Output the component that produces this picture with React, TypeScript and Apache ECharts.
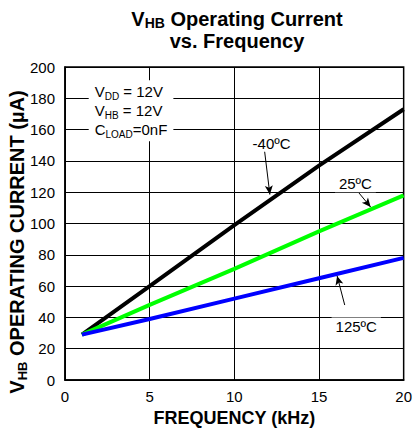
import React, { useEffect, useRef } from "react";
import * as echarts from "echarts";

const freqKHz = [1, 5, 10, 15, 20];
const currentM40 = [29, 60, 99, 137, 173];
const current25 = [29, 48, 71, 95, 118];
const current125 = [29, 39, 52, 65, 78];
const xTicks = [0, 5, 10, 15, 20];
const yTicks = [0, 20, 40, 60, 80, 100, 120, 140, 160, 180, 200];

const FONT = "Liberation Sans, Arial, Helvetica, sans-serif";

function pairs(ys: number[]) {
  return freqKHz.map((x, i) => [x, ys[i]]);
}

export default function App() {
  const ref = useRef<HTMLDivElement>(null);
  useEffect(() => {
    if (!ref.current) return;
    const chart = echarts.init(ref.current, undefined, { renderer: "svg" });
    const lbl = (text: string) => ({
      show: true,
      formatter: text,
      position: "inside",
      color: "#000",
      fontSize: 15,
      fontFamily: FONT,
      backgroundColor: "#fff",
      padding: [1, 4, 1, 4],
    });
    const arrow = (from: number[], to: number[]) => [
      { coord: from, symbol: "none" },
      { coord: to, symbol: "arrow" },
    ];
    const markLineBase = {
      silent: true,
      symbol: ["none", "arrow"],
      symbolSize: [6, 9],
      lineStyle: { color: "#000", width: 1, type: "solid" },
      label: { show: false },
      animation: false,
    };
    chart.setOption({
      animation: false,
      backgroundColor: "#fff",
      title: {
        text: "{a|V}{s|HB}{a| Operating Current}\n{a|vs. Frequency}",
        left: 232,
        textAlign: "center",
        top: 3,
        textStyle: {
          rich: {
            a: { fontSize: 20, fontWeight: "bold", fontFamily: FONT, color: "#000", lineHeight: 22 },
            s: { fontSize: 14, fontWeight: "bold", fontFamily: FONT, color: "#000", verticalAlign: "bottom", lineHeight: 22, padding: [9, 0, 0, 0] },
          },
        },
      },
      graphic: [
        {
          type: "text",
          x: 17,
          y: 242,
          rotation: Math.PI / 2,
          style: {
            text: "{a|V}{s|HB}{a| OPERATING CURRENT (µA)}",
            align: "center",
            verticalAlign: "middle",
            rich: {
              a: { fontSize: 20, fontWeight: "bold", fontFamily: FONT, fill: "#000", lineHeight: 24 },
              s: { fontSize: 13, fontWeight: "bold", fontFamily: FONT, fill: "#000", verticalAlign: "bottom", lineHeight: 24, padding: [10, 0, 0, 0] },
            },
          },
        },
      ],
      grid: { left: 65, right: 9, top: 67, bottom: 52, show: true, borderColor: "#000", borderWidth: 1.5 },
      xAxis: {
        type: "value",
        min: 0,
        max: 20,
        interval: 5,
        name: "FREQUENCY (kHz)",
        nameLocation: "middle",
        nameGap: 28,
        nameTextStyle: { fontSize: 18, fontWeight: "bold", fontFamily: FONT, color: "#000" },
        axisLine: { show: true, lineStyle: { color: "#000", width: 1.5 } },
        axisTick: { show: false },
        axisLabel: { color: "#000", fontSize: 15, fontFamily: FONT, margin: 9, formatter: (v: number) => (xTicks.includes(v) ? String(v) : "") },
        splitLine: { show: true, lineStyle: { color: "#000", width: 1 } },
      },
      yAxis: {
        type: "value",
        min: 0,
        max: 200,
        interval: 20,
        axisLine: { show: true, lineStyle: { color: "#000", width: 1.5 } },
        axisTick: { show: false },
        axisLabel: { color: "#000", fontSize: 15, fontFamily: FONT, margin: 10, formatter: (v: number) => (yTicks.includes(v) ? String(v) : "") },
        splitLine: { show: true, lineStyle: { color: "#000", width: 1 } },
      },
      series: [
        {
          name: "-40ºC",
          type: "line",
          data: pairs(currentM40),
          showSymbol: false,
          lineStyle: { color: "#000", width: 4 },
          z: 3,
          markLine: { ...markLineBase, data: [arrow([11.79, 146], [12.1, 118.5])] },
          markPoint: {
            symbolSize: 0,
            data: [{ coord: [12.2, 151.4], label: lbl("-40ºC") }],
          },
        },
        {
          name: "25ºC",
          type: "line",
          data: pairs(current25),
          showSymbol: false,
          lineStyle: { color: "#00ff00", width: 4 },
          z: 3,
          markLine: { ...markLineBase, data: [arrow([17.3, 120.3], [18.05, 110.5])] },
          markPoint: {
            symbolSize: 0,
            data: [{ coord: [17.15, 125.4], label: lbl("25ºC") }],
          },
        },
        {
          name: "125ºC",
          type: "line",
          data: pairs(current125),
          showSymbol: false,
          lineStyle: { color: "#0000ff", width: 4 },
          z: 3,
          markLine: { ...markLineBase, data: [arrow([16.52, 47.9], [16.07, 66.5])] },
          markPoint: {
            symbolSize: 0,
            data: [
              { coord: [17.2, 34.5], label: lbl("125ºC") },
              {
                coord: [1.4, 172],
                label: {
                  show: true,
                  position: "inside",
                  formatter: "{a|V}{s|DD}{a| = 12V}\n{a|V}{s|HB}{a| = 12V}\n{a|C}{s|LOAD}{a|=0nF}",
                  backgroundColor: "#fff",
                  padding: [2, 6, 2, 6],
                  align: "left",
                  rich: {
                    a: { fontSize: 15, fontFamily: FONT, color: "#000", lineHeight: 19 },
                    s: { fontSize: 10, fontFamily: FONT, color: "#000", lineHeight: 19, verticalAlign: "bottom", padding: [7, 0, 0, 0] },
                  },
                },
              },
            ],
          },
        },
      ],
    });
    return () => chart.dispose();
  }, []);
  return <div ref={ref} style={{ width: 415, height: 432, position: "absolute", left: 0, top: 0 }} />;
}
